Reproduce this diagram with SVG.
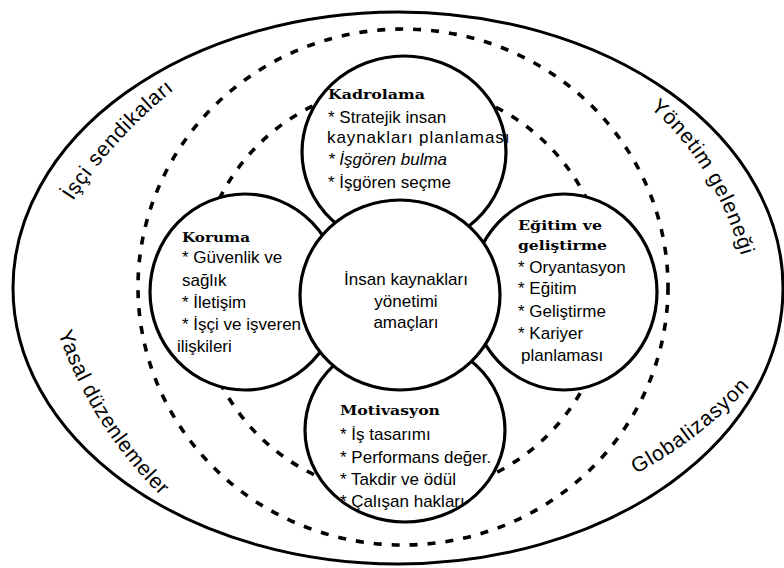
<svg xmlns="http://www.w3.org/2000/svg" width="784" height="568" viewBox="0 0 784 568">
<style>
.ring{fill:none;stroke:#000;stroke-width:3}
.dash{fill:none;stroke:#000;stroke-width:3.6;stroke-dasharray:8 10}
.petal{fill:#fff;stroke:#000;stroke-width:3.2}
.lbl{font-family:"Liberation Sans",Arial,sans-serif;font-size:21px;fill:#000}
.t{font-family:"Liberation Sans",Arial,sans-serif;font-size:17px;fill:#000}
.h{font-family:"DejaVu Serif","Liberation Serif",serif;font-weight:bold;font-size:13px;fill:#000}
</style>
<defs>
<path id="p1" d="M 73 201 Q 113 139 175 89"/>
<path id="p2" d="M 650 108 Q 712 160 742 258"/>
<path id="p3" d="M 58 333 Q 92 430 165 500"/>
<path id="p4" d="M 636 474 Q 700 440 752 384"/>
</defs>
<rect width="784" height="568" fill="#fff"/>
<g id="environment">
<ellipse class="ring" cx="398" cy="288" rx="385" ry="276"/>
<text class="lbl" style="letter-spacing:0.8px"><textPath href="#p1">İşçi sendikaları</textPath></text>
<text class="lbl" style="letter-spacing:0.9px"><textPath href="#p2">Yönetim geleneği</textPath></text>
<text class="lbl" style="letter-spacing:0.65px"><textPath href="#p3">Yasal düzenlemeler</textPath></text>
<text class="lbl" style="letter-spacing:1px"><textPath href="#p4">Globalizasyon</textPath></text>
</g>
<g id="connectors">
<ellipse class="dash" cx="403" cy="287" rx="265" ry="258"/>
<circle class="dash" cx="403" cy="290" r="205"/>
</g>
<g id="kadrolama">
<ellipse class="petal" cx="404" cy="152" rx="102" ry="96"/>
</g>
<g id="koruma">
<ellipse class="petal" cx="245" cy="292" rx="95" ry="98"/>
</g>
<g id="egitim">
<ellipse class="petal" cx="564" cy="292" rx="93" ry="98"/>
</g>
<g id="motivasyon">
<ellipse class="petal" cx="405" cy="430" rx="100" ry="92"/>
</g>
<g id="center">
<ellipse class="petal" cx="400" cy="295" rx="100" ry="95"/>
<text class="t" x="406" y="285" text-anchor="middle">İnsan kaynakları</text>
<text class="t" x="406" y="307" text-anchor="middle">yönetimi</text>
<text class="t" x="406" y="328" text-anchor="middle">amaçları</text>
</g>
<g id="kadrolama-text">
<text class="h" x="328" y="99" textLength="97" lengthAdjust="spacingAndGlyphs">Kadrolama</text>
<text class="t" x="328" y="123">* Stratejik insan</text>
<text class="t" x="327" y="143" style="letter-spacing:0.9px">kaynakları planlaması</text>
<text class="t" x="328" y="165" font-style="italic">* İşgören bulma</text>
<text class="t" x="328" y="188">* İşgören seçme</text>
</g>
<g id="koruma-text">
<text class="h" x="182" y="242" textLength="68" lengthAdjust="spacingAndGlyphs">Koruma</text>
<text class="t" x="182" y="263">* Güvenlik ve</text>
<text class="t" x="182" y="286">sağlık</text>
<text class="t" x="182" y="308">* İletişim</text>
<text class="t" x="182" y="330">* İşçi ve işveren</text>
<text class="t" x="177" y="352">ilişkileri</text>
</g>
<g id="egitim-text">
<text class="h" x="518" y="230" textLength="84" lengthAdjust="spacingAndGlyphs">Eğitim ve</text>
<text class="h" x="518" y="250" textLength="89" lengthAdjust="spacingAndGlyphs">geliştirme</text>
<text class="t" x="518" y="273">* Oryantasyon</text>
<text class="t" x="518" y="294">* Eğitim</text>
<text class="t" x="518" y="317">* Geliştirme</text>
<text class="t" x="518" y="339">* Kariyer</text>
<text class="t" x="521" y="361">planlaması</text>
</g>
<g id="motivasyon-text">
<text class="h" x="340" y="415" textLength="100" lengthAdjust="spacingAndGlyphs">Motivasyon</text>
<text class="t" x="340" y="440">* İş tasarımı</text>
<text class="t" x="340" y="463">* Performans değer.</text>
<text class="t" x="340" y="485">* Takdir ve ödül</text>
<text class="t" x="340" y="507">* Çalışan hakları</text>
</g>
</svg>
